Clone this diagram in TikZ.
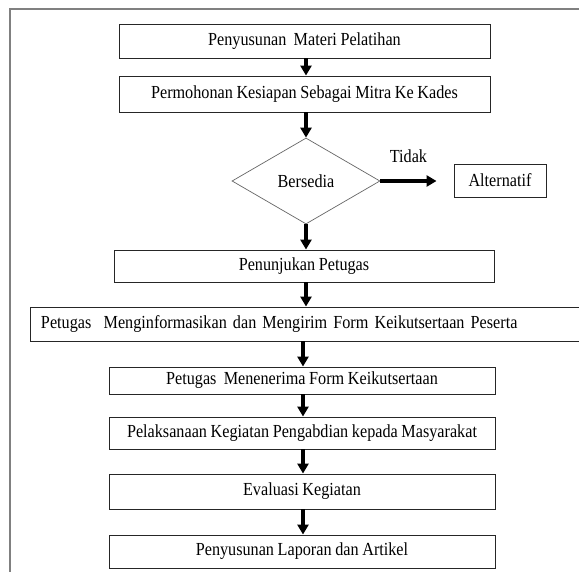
\documentclass[tikz,border=0pt]{standalone}
\usepackage{fontspec}
\setmainfont[FakeStretch=0.88,WordSpace=0.9]{Liberation Serif}
\usetikzlibrary{arrows.meta,shapes.geometric}
\begin{document}
\begin{tikzpicture}[x=1pt,y=-1pt,
  txt/.style={font=\fontsize{18.4}{21}\selectfont},
  box/.style={txt, draw=black!85, line width=0.9pt, inner sep=0pt},
  decision/.style={txt, diamond, draw=black!60, line width=0.7pt, inner sep=0pt},
  flow/.style={line width=3.5pt, -{Triangle[width=11pt,length=10pt]}},
  frameline/.style={draw=black!50, line width=1.5pt}]
\clip (0,0) rectangle (579,572);
\fill[white] (0,0) rectangle (579,572);
\draw[frameline] (10,572) -- (10,9) -- (579,9);
\coordinate (ax) at (306,0);
\coordinate (bx) at (303,0);
\node[box, minimum width=371pt, minimum height=34pt] (b1) at (304.5,41) {Penyusunan~ Materi Pelatihan};
\node[box, minimum width=371pt, minimum height=36pt] (b2) at (304.5,94) {Permohonan Kesiapan Sebagai Mitra Ke Kades};
\node[decision, minimum width=148pt, minimum height=86pt] (dia) at (306,181) {Bersedia};
\node[box, minimum width=92pt, minimum height=33pt] (alt) at (500,180.5) {Alternatif};
\node[box, minimum width=380pt, minimum height=32pt] (b3) at (304,266) {Penunjukan Petugas};
\node[box, minimum width=555pt, minimum height=34pt, text width=533pt, align=left] (b4) at (307.5,324) {Petugas~ Menginformasikan dan Mengirim Form Keikutsertaan Peserta};
\node[box, minimum width=386pt, minimum height=27pt] (b5) at (302,380.5) {Petugas~ Menenerima Form Keikutsertaan};
\node[box, minimum width=386pt, minimum height=32pt] (b6) at (302,433) {Pelaksanaan Kegiatan Pengabdian kepada Masyarakat};
\node[box, minimum width=386pt, minimum height=35pt] (b7) at (302,491.5) {Evaluasi Kegiatan};
\node[box, minimum width=386pt, minimum height=33pt] (b8) at (302,551.5) {Penyusunan Laporan dan Artikel};
\draw[flow] (b1.south -| ax) -- (b2.north -| ax);
\draw[flow] (b2.south -| ax) -- (dia.north);
\draw[flow] (dia.east) -- node[txt, above=13pt] (tidak) {Tidak} ([xshift=-17pt]alt.west |- dia.east);
\draw[flow] (dia.south) -- (b3.north -| dia.south);
\draw[flow] (b3.south -| ax) -- (b4.north -| ax);
\draw[flow] (b4.south -| bx) -- (b5.north -| bx);
\draw[flow] (b5.south -| bx) -- (b6.north -| bx);
\draw[flow] (b6.south -| bx) -- (b7.north -| bx);
\draw[flow] (b7.south -| bx) -- (b8.north -| bx);
\end{tikzpicture}
\end{document}
